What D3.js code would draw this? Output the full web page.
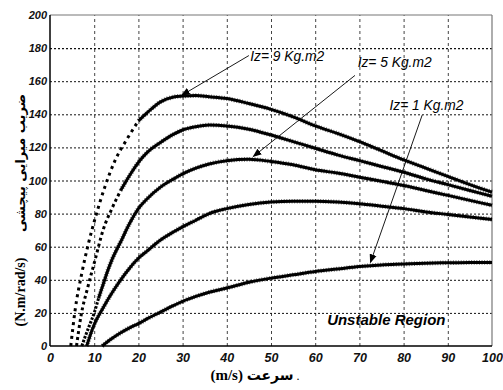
<!DOCTYPE html>
<html>
<head>
<meta charset="utf-8">
<script src="https://cdn.jsdelivr.net/npm/d3@7"></script>
<style>
  body { margin: 0; background: #fff; }
  svg { display: block; }
</style>
</head>
<body>
<svg id="chart" width="503" height="390"></svg>
<script>
// Axis ticks
const xTicks = [0, 10, 20, 30, 40, 50, 60, 70, 80, 90, 100];
const yTicks = [0, 20, 40, 60, 80, 100, 120, 140, 160, 180, 200];

// Damping coefficient (N.m/rad/s) versus speed (m/s), one curve per yaw inertia
const speed1 = [4.7, 5.7, 7.2, 8.7, 10.2, 12.4, 14.7, 17.3, 20, 22, 25, 28, 30, 33, 36, 40, 45, 50, 55, 60, 65, 70, 75, 80, 85, 90, 95, 100];
const damping1 = [0, 22, 44, 62, 77, 96, 112, 124.5, 136, 141, 147.5, 150.5, 151, 151.3, 150.6, 149.5, 146.5, 143, 138.5, 133, 128.5, 123.5, 118, 112.5, 107.5, 102.5, 97.5, 93];

const speed2 = [6, 7, 8.6, 10.2, 12, 14, 16, 18, 20, 22, 25, 28, 30, 33, 36, 40, 45, 50, 55, 60, 65, 70, 75, 80, 85, 90, 95, 100];
const damping2 = [0, 18, 36, 52, 70, 83, 94, 103, 111, 117, 123, 128, 130.5, 132.5, 133.5, 133, 131, 127.5, 123.5, 119.5, 115.5, 112, 108.5, 105, 101, 97.5, 94, 90.5];

const speed3 = [7.2, 8, 9, 10, 11, 12, 13, 14, 16, 18, 20, 22, 25, 28, 30, 33, 36, 40, 45, 50, 55, 60, 65, 70, 75, 80, 85, 90, 95, 100];
const damping3 = [0, 6, 13, 20, 29, 37, 45, 52, 63, 74, 83, 89, 96, 101, 104, 107.5, 110, 112, 112.8, 111.5, 109.5, 106.5, 104.5, 102, 99.5, 97, 94, 91, 88, 85];

const speed4 = [8.3, 10, 12, 14, 16, 18, 20, 22, 25, 28, 30, 33, 36, 40, 45, 50, 55, 60, 65, 70, 75, 80, 85, 90, 95, 100];
const damping4 = [0, 13, 23, 32, 40, 47, 53, 57.5, 64, 69, 72, 76, 80, 83, 85.5, 87, 87.5, 87.5, 87, 86, 84.5, 83, 81, 79.5, 78, 76.5];

const speed5 = [11.8, 14, 16, 18, 20, 22, 25, 28, 30, 33, 36, 40, 45, 50, 55, 60, 65, 70, 75, 80, 85, 90, 95, 100];
const damping5 = [0, 4.5, 8, 11, 13.5, 16.5, 20.5, 24.5, 27, 30, 32.5, 35, 38.5, 41, 43, 45, 46.5, 48, 49, 49.5, 50, 50.3, 50.5, 50.5];

// Annotations: label text, label anchor point and arrow ends, in data units
const labelText = ["Iz= 9 Kg.m2", "Iz= 5 Kg.m2", "Iz= 1 Kg.m2"];
const labelAt = [[45.3, 172.5], [69.6, 168.5], [76.8, 142.5]];
const arrowFrom = [[45.0, 175.5], [69.0, 163.5], [84.2, 139.5]];
const arrowTo = [[29.8, 151.5], [46.0, 114.5], [72.5, 50.5]];

const regionText = "Unstable Region";

// Layout
const svg = d3.select("#chart");
const margin = { left: 50, top: 15, right: 11, bottom: 44 };
const W = 503, H = 390;
const plotW = W - margin.left - margin.right;
const plotH = H - margin.top - margin.bottom;

const x = d3.scaleLinear().domain([0, 100]).range([margin.left, margin.left + plotW]);
const y = d3.scaleLinear().domain([0, 200]).range([margin.top + plotH, margin.top]);

const tickFont = "'Liberation Sans', Arial, sans-serif";

// Grid and tick labels via d3 axes
const gx = svg.append("g")
  .attr("transform", `translate(0,${margin.top + plotH})`)
  .call(d3.axisBottom(x).tickValues(xTicks).tickSize(-plotH).tickPadding(7).tickFormat(d3.format("d")));
gx.select(".domain").remove();
gx.selectAll(".tick line")
  .attr("stroke", d => (d === 0 || d === 100) ? "none" : "#444")
  .attr("stroke-width", 1)
  .attr("stroke-dasharray", "3,3");
gx.selectAll(".tick text")
  .attr("font-family", tickFont)
  .attr("font-size", 12.5)
  .attr("font-weight", "bold")
  .attr("font-style", "italic")
  .attr("fill", "#111");

const gy = svg.append("g")
  .attr("transform", `translate(${margin.left},0)`)
  .call(d3.axisLeft(y).tickValues(yTicks).tickSize(-plotW).tickPadding(3).tickFormat(d3.format("d")));
gy.select(".domain").remove();
gy.selectAll(".tick line")
  .attr("stroke", d => (d === 0 || d === 200) ? "none" : "#111")
  .attr("stroke-width", d => d === 180 ? 1.4 : 1)
  .attr("stroke-dasharray", "2,2");
gy.selectAll(".tick text")
  .attr("font-family", tickFont)
  .attr("font-size", 11)
  .attr("font-weight", "bold")
  .attr("font-style", "italic")
  .attr("fill", "#111");

// Plot frame
svg.append("line").attr("x1", x(0)).attr("x2", x(100)).attr("y1", y(200)).attr("y2", y(200))
  .attr("stroke", "#777").attr("stroke-width", 1.2);
svg.append("line").attr("x1", x(100)).attr("x2", x(100)).attr("y1", y(200)).attr("y2", y(0))
  .attr("stroke", "#777").attr("stroke-width", 1.2);
svg.append("line").attr("x1", x(0)).attr("x2", x(100)).attr("y1", y(0)).attr("y2", y(0))
  .attr("stroke", "#000").attr("stroke-width", 1.5);
svg.append("line").attr("x1", x(0)).attr("x2", x(0)).attr("y1", y(200)).attr("y2", y(0))
  .attr("stroke", "#000").attr("stroke-width", 1.5);

// Curves: steep low-speed parts are drawn dotted, the rest solid
const series = [
  { xs: speed1, ys: damping1, dotUntil: 21, dash: "3,4" },
  { xs: speed2, ys: damping2, dotUntil: 16, dash: "3,3" },
  { xs: speed3, ys: damping3, dotUntil: 11, dash: "2.5,1.5" },
  { xs: speed4, ys: damping4, dotUntil: 0, dash: null },
  { xs: speed5, ys: damping5, dotUntil: 0, dash: null }
];

const line = d3.line().x(d => x(d[0])).y(d => y(d[1])).curve(d3.curveMonotoneX);
const curves = svg.append("g");
series.forEach(s => {
  const pts = s.xs.map((v, i) => [v, s.ys[i]]);
  const joinIdx = s.dotUntil > 0 ? pts.findIndex(p => p[0] > s.dotUntil) : 0;
  const solid = s.dotUntil > 0 ? pts.slice(Math.max(joinIdx - 1, 0)) : pts;
  const dotted = s.dotUntil > 0 ? pts.slice(0, joinIdx) : [];
  if (dotted.length > 1) {
    curves.append("path").attr("d", line(dotted))
      .attr("fill", "none").attr("stroke", "#000").attr("stroke-width", 3)
      .attr("stroke-dasharray", s.dash);
  }
  curves.append("path").attr("d", line(solid))
    .attr("fill", "none").attr("stroke", "#000").attr("stroke-width", 3)
    .attr("stroke-linejoin", "round");
  // ragged edge texture along each curve
  curves.append("path").attr("d", line(solid))
    .attr("fill", "none").attr("stroke", "#000").attr("stroke-width", 4.6)
    .attr("stroke-dasharray", "1,1.6").attr("opacity", 0.55);
});

// Arrowhead marker
svg.append("defs").append("marker")
  .attr("id", "head")
  .attr("viewBox", "0 0 10 10")
  .attr("refX", 9).attr("refY", 5)
  .attr("markerWidth", 9).attr("markerHeight", 9)
  .attr("markerUnits", "userSpaceOnUse")
  .attr("orient", "auto")
  .append("path").attr("d", "M0,1 L10,5 L0,9 Z").attr("fill", "#000");

// Annotation arrows and labels
labelText.forEach((t, i) => {
  svg.append("line")
    .attr("x1", x(arrowFrom[i][0])).attr("y1", y(arrowFrom[i][1]))
    .attr("x2", x(arrowTo[i][0])).attr("y2", y(arrowTo[i][1]))
    .attr("stroke", "#000").attr("stroke-width", 0.9)
    .attr("marker-end", "url(#head)");
  svg.append("text")
    .attr("x", x(labelAt[i][0])).attr("y", y(labelAt[i][1]))
    .attr("font-family", tickFont)
    .attr("font-size", 15)
    .attr("font-style", "italic")
    .attr("textLength", 74)
    .attr("lengthAdjust", "spacingAndGlyphs")
    .attr("fill", "#000")
    .text(t);
});

svg.append("text")
  .attr("x", x(62.7)).attr("y", y(12.5))
  .attr("font-family", tickFont)
  .attr("font-size", 15)
  .attr("font-weight", "bold")
  .attr("font-style", "italic")
  .attr("fill", "#000")
  .text(regionText);

// Axis titles
const xTitle = svg.append("text")
  .attr("x", 255).attr("y", 380)
  .attr("text-anchor", "middle")
  .attr("direction", "ltr")
  .attr("font-weight", "bold")
  .attr("fill", "#000");
xTitle.append("tspan").attr("font-family", "'Liberation Serif', 'Times New Roman', serif").attr("font-size", 15).text("(m/s) ");
xTitle.append("tspan").attr("font-family", "'DejaVu Sans', sans-serif").attr("font-size", 14).text("سرعت");
xTitle.append("tspan").attr("font-family", "'Liberation Serif', serif").attr("font-size", 12).attr("font-weight", "normal").text(" .");

const yTitle = svg.append("g").attr("transform", "translate(20,0) rotate(-90)");
yTitle.append("text")
  .attr("x", -292).attr("y", 5)
  .attr("text-anchor", "middle")
  .attr("font-family", "'Liberation Serif', 'Times New Roman', serif")
  .attr("font-size", 14)
  .attr("font-weight", "bold")
  .attr("fill", "#000")
  .text("(N.m/rad/s)");
yTitle.append("text")
  .attr("x", -163).attr("y", 5)
  .attr("text-anchor", "middle")
  .attr("direction", "rtl")
  .attr("font-family", "'DejaVu Sans', sans-serif")
  .attr("font-size", 13)
  .attr("font-weight", "bold")
  .attr("fill", "#000")
  .text("ضریب میرایی پیچشی");
</script>
</body>
</html>
